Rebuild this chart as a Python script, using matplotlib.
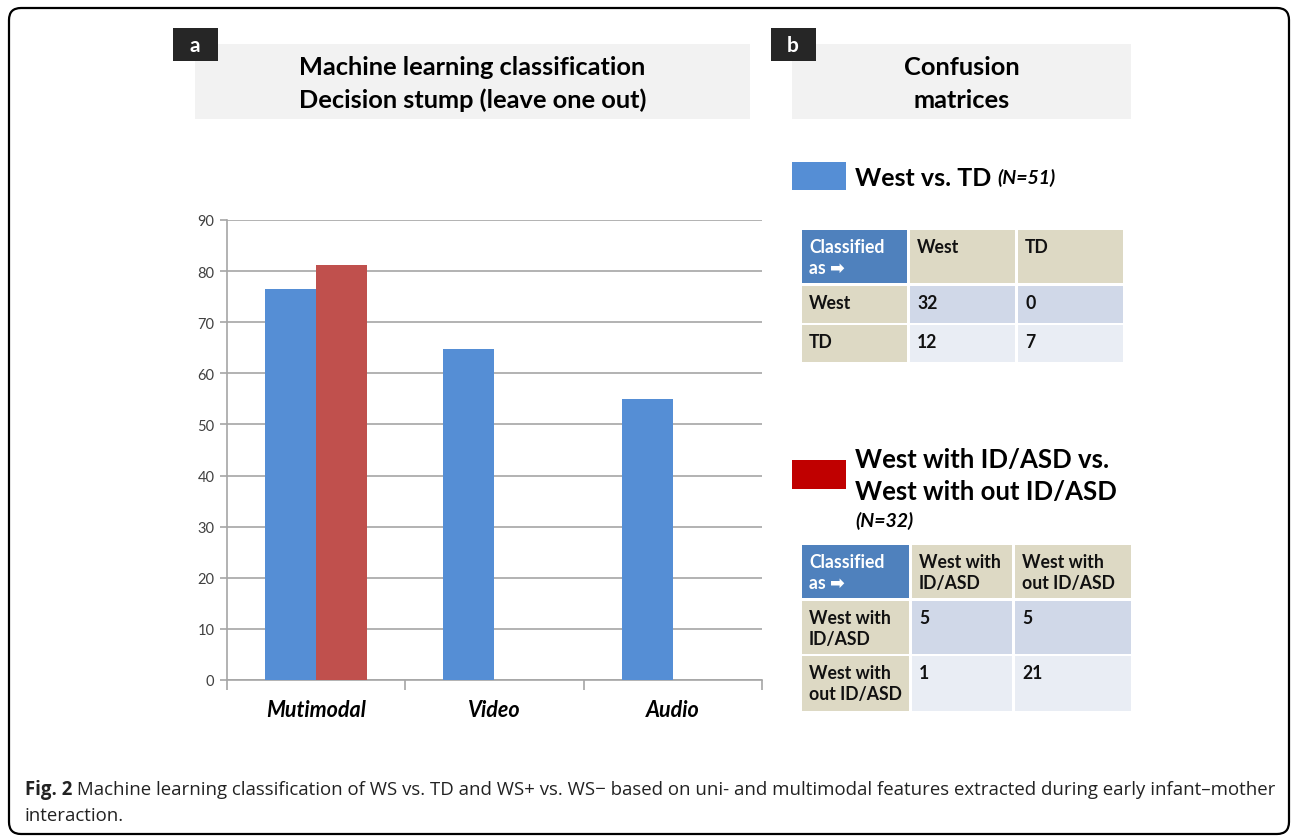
import numpy as np
import matplotlib
matplotlib.use("Agg")
import matplotlib.pyplot as plt
from matplotlib.patches import Rectangle, FancyBboxPatch

# bar chart data (% correct, leave one out)
categories = ["Mutimodal", "Video", "Audio"]
west_vs_td = [76.5, 64.7, 54.9]
west_id_vs_not = [81.2, 0, 0]
yticks = list(range(0, 100, 10))

# confusion matrices
cm1_cols = ["Classified\nas \u27a1", "West", "TD"]
cm1_rows = ["West", "TD"]
cm1_vals = [["32", "0"], ["12", "7"]]

cm2_cols = ["Classified\nas \u27a1", "West with\nID/ASD", "West with\nout ID/ASD"]
cm2_rows = ["West with\nID/ASD", "West with\nout ID/ASD"]
cm2_vals = [["5", "5"], ["1", "21"]]

BLUE = "#558ed5"
RED = "#c0504d"
LEG_RED = "#c00000"
HDR_BLUE = "#4f81bd"
TAN = "#ddd9c4"
ROW1 = "#d0d8e8"
ROW2 = "#e9edf4"
FONT = ["Lato", "DejaVu Sans"]

W, H = 1292, 837
fig = plt.figure(figsize=(W / 100, H / 100), dpi=100)
bg = fig.add_axes([0, 0, 1, 1])
bg.set_xlim(0, W)
bg.set_ylim(H, 0)
bg.axis("off")

# outer rounded frame
bg.add_patch(FancyBboxPatch((9, 9), 1280, 826, boxstyle="round,pad=0,rounding_size=12",
                            fc="none", ec="black", lw=1.6))

def panel_header(lx, title_box, lines, label):
    x0, y0, x1, y1 = title_box
    bg.add_patch(Rectangle((x0, y0), x1 - x0, y1 - y0, fc="#f2f2f2", ec="none"))
    bg.add_patch(Rectangle((lx, 29), 45, 33, fc="#262626", ec="none"))
    bg.text(lx + 22, 46, label, color="white", fontsize=15, fontweight="bold",
            ha="center", va="center", family=FONT)
    cx = (x0 + x1) / 2
    for i, ln in enumerate(lines):
        bg.text(cx, 67 + 33 * i, ln, fontsize=18.3, fontweight="bold", ha="center",
                va="center", family=FONT)

panel_header(173, (195, 45, 750, 120),
             ["Machine learning classification", "Decision stump (leave one out)"], "a")
panel_header(771, (792, 45, 1131, 120), ["Confusion", "matrices"], "b")

# bar chart
ax = fig.add_axes([227 / W, (H - 681) / H, 535 / W, (681 - 221) / H])
x = np.arange(len(categories))
w = 0.286
ax.bar(x - w / 2, west_vs_td, w, color=BLUE, zorder=3)
ax.bar(x + w / 2, west_id_vs_not, w, color=RED, zorder=3)
ax.set_xlim(-0.5, len(categories) - 0.5)
ax.set_ylim(0, 90)
ax.set_yticks(yticks)
ax.yaxis.grid(True, color="#a6a6a6", lw=1.2, zorder=0)
ax.set_axisbelow(True)
for s in ["top", "right"]:
    ax.spines[s].set_visible(False)
for s in ["left", "bottom"]:
    ax.spines[s].set_color("#a6a6a6")
    ax.spines[s].set_linewidth(1.2)
ax.set_xticks([])
# category boundary ticks drawn below axis
ax.set_xticks(np.arange(-0.5, len(categories)), minor=True)
ax.tick_params(axis="x", which="minor", length=7, color="#a6a6a6", width=1.2, direction="out")
ax.tick_params(axis="y", length=5, color="#a6a6a6", width=1.2, labelsize=10.5,
               labelcolor="#404040", pad=4)
for lbl in ax.get_yticklabels():
    lbl.set_family(FONT)
for xi, c in zip(x, categories):
    ax.text(xi, -5.8, c, ha="center", va="center", fontsize=15.5, fontweight="bold",
            fontstyle="italic", family=FONT)

# legends in panel b
bg.add_patch(Rectangle((792, 163), 54, 28, fc=BLUE, ec="none"))
t = bg.text(855, 178, "West vs. TD ", fontsize=18, fontweight="bold", va="center", family=FONT)
bg.annotate("(N=51)", xycoords=t, xy=(1, 0.5), va="center", fontsize=14,
            fontweight="bold", fontstyle="italic", family=FONT)

bg.add_patch(Rectangle((792, 461), 54, 29, fc=LEG_RED, ec="none"))
bg.text(855, 460, "West with ID/ASD vs.", fontsize=18.5, fontweight="bold", va="center", family=FONT)
bg.text(855, 492, "West with out ID/ASD", fontsize=18.5, fontweight="bold", va="center", family=FONT)
bg.text(855, 521, "(N=32)", fontsize=14, fontweight="bold", fontstyle="italic", va="center", family=FONT)

def draw_table(cols_x, rows_y, header, rows, vals):
    # cols_x: column edges, rows_y: list of (top, bottom) per row
    gap = 1.5
    for r, (top, bot) in enumerate(rows_y):
        for c in range(len(cols_x) - 1):
            left, right = cols_x[c], cols_x[c + 1]
            if r == 0:
                fc = HDR_BLUE if c == 0 else TAN
                txt = header[c]
                col = "white" if c == 0 else "#111111"
            else:
                if c == 0:
                    fc = TAN
                    txt = rows[r - 1]
                else:
                    fc = ROW1 if r == 1 else ROW2
                    txt = vals[r - 1][c - 1]
                col = "#111111"
            bg.add_patch(Rectangle((left + gap, top), right - left - 2 * gap, bot - top,
                                   fc=fc, ec="none"))
            bg.text(left + 9, top + 8, txt, fontsize=12.7, fontweight="bold", color=col,
                    va="top", ha="left", linespacing=1.3, family=FONT)

draw_table([800, 908, 1016, 1124], [(231, 284), (287, 324), (326, 363)],
           cm1_cols, cm1_rows, cm1_vals)
draw_table([800, 910, 1013, 1132], [(546, 599), (602, 655), (657, 712)],
           cm2_cols, cm2_rows, cm2_vals)

# caption
CAP_FONT = ["Open Sans", "DejaVu Sans"]
cap = bg.text(25, 790, "Fig. 2", fontsize=13.4, fontweight="bold", va="center",
              color="#222222", family=CAP_FONT)
bg.annotate(" Machine learning classification of WS vs. TD and WS+ vs. WS\u2212 based on uni- and "
            "multimodal features extracted during early infant\u2013mother",
            xycoords=cap, xy=(1, 0.5), va="center", fontsize=13.4, color="#222222",
            family=CAP_FONT)
bg.text(25, 816, "interaction.", fontsize=13.4, va="center", color="#222222",
        family=CAP_FONT)

fig.savefig("out.png", dpi=100)
